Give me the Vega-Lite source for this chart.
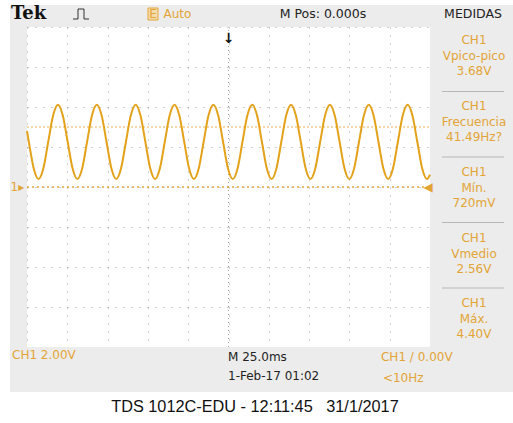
{
  "$schema": "https://vega.github.io/schema/vega-lite/v6.json",
  "width": 403,
  "height": 320,
  "autosize": {"type": "none"},
  "padding": {"left": 27, "top": 27, "right": 83, "bottom": 76},
  "background": "#ffffff",
  "config": {"view": {"stroke": null}},
  "encoding": {
    "x": {"field": "t", "type": "quantitative",
      "scale": {"domain": [-125, 125], "nice": false, "zero": false},
      "axis": {"values": [-125, -100, -75, -50, -25, 0, 25, 50, 75, 100, 125], "labels": false, "ticks": false, "domain": false, "title": null, "grid": true, "gridColor": "#a0a0a0", "gridDash": [1, 7]}},
    "y": {"field": "v", "type": "quantitative",
      "scale": {"domain": [-8, 8], "nice": false, "zero": false},
      "axis": {"values": [8, 6, 4, 2, 0, -2, -4, -6, -8], "labels": false, "ticks": false, "domain": false, "title": null, "grid": true, "gridColor": "#a0a0a0", "gridDash": [1, 7]}}
  },
  "layer": [
    {
      "data": {"values": [
        {"t": -135.55, "t2": 177, "v": 8, "v2": 9.1},
        {"t": -135.55, "t2": 177, "v": -10.25, "v2": -8},
        {"t": -135.55, "t2": -125, "v": -8, "v2": 8},
        {"t": 125, "t2": 177, "v": -8, "v2": 8}
      ]},
      "mark": {"type": "rect", "fill": "#ececec"},
      "encoding": {"x2": {"field": "t2"}, "y2": {"field": "v2"}}
    },
    {
      "data": {"values": [{"t": 0, "v": -8, "v2": 8}]},
      "mark": {"type": "rule", "color": "#a0a0a0", "strokeDash": [1, 3]},
      "encoding": {"y2": {"field": "v2"}}
    },
    {
      "data": {"values": [{"t": -125, "t2": 125, "v": 3.0}]},
      "mark": {"type": "rule", "color": "#e8b050", "strokeDash": [2, 2], "strokeWidth": 1.2},
      "encoding": {"x2": {"field": "t2"}}
    },
    {
      "data": {"values": [{"t": -125, "t2": 125, "v": 0}]},
      "mark": {"type": "rule", "color": "#e5a53a", "strokeDash": [2, 3], "strokeWidth": 1.5},
      "encoding": {"x2": {"field": "t2"}}
    },
    {
      "data": {"values": [
        {"t": -125, "v": 2.8},
        {"t": -123.875, "v": 2.26}, {"t": -120.8625, "v": 0.94}, {"t": -117.85, "v": 0.4}, {"t": -114.8375, "v": 0.94},
        {"t": -111.825, "v": 2.26}, {"t": -108.8125, "v": 3.57}, {"t": -105.8, "v": 4.11}, {"t": -102.7875, "v": 3.57},
        {"t": -99.775, "v": 2.26}, {"t": -96.7625, "v": 0.94}, {"t": -93.75, "v": 0.4}, {"t": -90.7375, "v": 0.94},
        {"t": -87.725, "v": 2.26}, {"t": -84.7125, "v": 3.57}, {"t": -81.7, "v": 4.11}, {"t": -78.6875, "v": 3.57},
        {"t": -75.675, "v": 2.26}, {"t": -72.6625, "v": 0.94}, {"t": -69.65, "v": 0.4}, {"t": -66.6375, "v": 0.94},
        {"t": -63.625, "v": 2.26}, {"t": -60.6125, "v": 3.57}, {"t": -57.6, "v": 4.11}, {"t": -54.5875, "v": 3.57},
        {"t": -51.575, "v": 2.26}, {"t": -48.5625, "v": 0.94}, {"t": -45.55, "v": 0.4}, {"t": -42.5375, "v": 0.94},
        {"t": -39.525, "v": 2.26}, {"t": -36.5125, "v": 3.57}, {"t": -33.5, "v": 4.11}, {"t": -30.4875, "v": 3.57},
        {"t": -27.475, "v": 2.26}, {"t": -24.4625, "v": 0.94}, {"t": -21.45, "v": 0.4}, {"t": -18.4375, "v": 0.94},
        {"t": -15.425, "v": 2.26}, {"t": -12.4125, "v": 3.57}, {"t": -9.4, "v": 4.11}, {"t": -6.3875, "v": 3.57},
        {"t": -3.375, "v": 2.26}, {"t": -0.3625, "v": 0.94}, {"t": 2.65, "v": 0.4}, {"t": 5.6625, "v": 0.94},
        {"t": 8.675, "v": 2.26}, {"t": 11.6875, "v": 3.57}, {"t": 14.7, "v": 4.11}, {"t": 17.7125, "v": 3.57},
        {"t": 20.725, "v": 2.26}, {"t": 23.7375, "v": 0.94}, {"t": 26.75, "v": 0.4}, {"t": 29.7625, "v": 0.94},
        {"t": 32.775, "v": 2.26}, {"t": 35.7875, "v": 3.57}, {"t": 38.8, "v": 4.11}, {"t": 41.8125, "v": 3.57},
        {"t": 44.825, "v": 2.26}, {"t": 47.8375, "v": 0.94}, {"t": 50.85, "v": 0.4}, {"t": 53.8625, "v": 0.94},
        {"t": 56.875, "v": 2.26}, {"t": 59.8875, "v": 3.57}, {"t": 62.9, "v": 4.11}, {"t": 65.9125, "v": 3.57},
        {"t": 68.925, "v": 2.26}, {"t": 71.9375, "v": 0.94}, {"t": 74.95, "v": 0.4}, {"t": 77.9625, "v": 0.94},
        {"t": 80.975, "v": 2.26}, {"t": 83.9875, "v": 3.57}, {"t": 87.0, "v": 4.11}, {"t": 90.0125, "v": 3.57},
        {"t": 93.025, "v": 2.26}, {"t": 96.0375, "v": 0.94}, {"t": 99.05, "v": 0.4}, {"t": 102.0625, "v": 0.94},
        {"t": 105.075, "v": 2.26}, {"t": 108.0875, "v": 3.57}, {"t": 111.1, "v": 4.11}, {"t": 114.1125, "v": 3.57},
        {"t": 117.125, "v": 2.26}, {"t": 120.1375, "v": 0.94}, {"t": 123.15, "v": 0.4}, {"t": 125, "v": 0.61}
      ]},
      "mark": {"type": "line", "color": "#e3a21a", "strokeWidth": 2, "interpolate": "monotone"},
      "encoding": {"order": {"field": "t", "type": "quantitative"}}
    },
    {
      "data": {"values": [
        {"t": 132.4, "t2": 170.9, "v": 4.775},
        {"t": 132.4, "t2": 170.9, "v": 1.5},
        {"t": 132.4, "t2": 170.9, "v": -1.775},
        {"t": 132.4, "t2": 170.9, "v": -5.05}
      ]},
      "mark": {"type": "rule", "color": "#b8b8b8", "strokeWidth": 1},
      "encoding": {"x2": {"field": "t2"}}
    },
    {
      "data": {"values": [{"t": -49.94, "t2": -43.74, "v": 8.35, "v2": 8.95}]},
      "mark": {"type": "rect", "fill": "#f3dcae", "stroke": "#e5a53a", "strokeWidth": 1},
      "encoding": {"x2": {"field": "t2"}, "y2": {"field": "v2"}}
    },
    {
      "data": {"values": [
        {"t": -96.47, "v": 8.4}, {"t": -93.36, "v": 8.4}, {"t": -93.36, "v": 8.9},
        {"t": -89.64, "v": 8.9}, {"t": -89.64, "v": 8.4}, {"t": -86.54, "v": 8.4}
      ]},
      "mark": {"type": "line", "color": "#333333", "strokeWidth": 1},
      "encoding": {"order": {"field": "t", "type": "quantitative"}}
    },
    {
      "data": {"values": [{"t": -134.9, "v": 8.65, "label": "Tek"}]},
      "mark": {"type": "text", "font": "DejaVu Serif", "fontWeight": "bold", "fontSize": 18, "align": "left", "baseline": "middle", "color": "#111111"},
      "encoding": {"text": {"field": "label"}}
    },
    {
      "data": {"values": [
        {"t": 58.6, "v": 8.65, "label": "M Pos: 0.000s"},
        {"t": 151.7, "v": 8.65, "label": "MEDIDAS"}
      ]},
      "mark": {"type": "text", "font": "DejaVu Sans", "fontSize": 12.5, "align": "center", "baseline": "middle", "color": "#222222"},
      "encoding": {"text": {"field": "label"}}
    },
    {
      "data": {"values": [{"t": 0, "v": 7.4, "label": "↓"}]},
      "mark": {"type": "text", "font": "DejaVu Sans", "fontWeight": "bold", "fontSize": 14, "align": "center", "baseline": "middle", "color": "#111111"},
      "encoding": {"text": {"field": "label"}}
    },
    {
      "data": {"values": [
        {"t": -0.31, "v": -8.5, "label": "M 25.0ms"},
        {"t": -0.31, "v": -9.45, "label": "1-Feb-17 01:02"}
      ]},
      "mark": {"type": "text", "font": "DejaVu Sans", "fontSize": 12, "align": "left", "baseline": "middle", "color": "#222222"},
      "encoding": {"text": {"field": "label"}}
    },
    {
      "data": {"values": [
        {"t": 152.3, "v": 7.35, "label": "CH1"},
        {"t": 152.3, "v": 6.575, "label": "Vpico-pico"},
        {"t": 152.3, "v": 5.8, "label": "3.68V"},
        {"t": 152.3, "v": 4.05, "label": "CH1"},
        {"t": 152.3, "v": 3.275, "label": "Frecuencia"},
        {"t": 152.3, "v": 2.5, "label": "41.49Hz?"},
        {"t": 152.3, "v": 0.75, "label": "CH1"},
        {"t": 152.3, "v": -0.025, "label": "Mín."},
        {"t": 152.3, "v": -0.8, "label": "720mV"},
        {"t": 152.3, "v": -2.55, "label": "CH1"},
        {"t": 152.3, "v": -3.325, "label": "Vmedio"},
        {"t": 152.3, "v": -4.1, "label": "2.56V"},
        {"t": 152.3, "v": -5.8, "label": "CH1"},
        {"t": 152.3, "v": -6.575, "label": "Máx."},
        {"t": 152.3, "v": -7.35, "label": "4.40V"},
        {"t": -46.8, "v": 8.65, "label": "E"},
        {"t": 123.8, "v": 0, "label": "◀"}
      ]},
      "mark": {"type": "text", "font": "DejaVu Sans", "fontSize": 12, "align": "center", "baseline": "middle", "color": "#e3a436"},
      "encoding": {"text": {"field": "label"}}
    },
    {
      "data": {"values": [
        {"t": -40.3, "v": 8.65, "label": "Auto"},
        {"t": -134.3, "v": -8.4, "label": "CH1  2.00V"},
        {"t": 94.6, "v": -8.5, "label": "CH1 / 0.00V"},
        {"t": 95.8, "v": -9.55, "label": "<10Hz"},
        {"t": -135.2, "v": 0, "label": "1▸"}
      ]},
      "mark": {"type": "text", "font": "DejaVu Sans", "fontSize": 12, "align": "left", "baseline": "middle", "color": "#e3a436"},
      "encoding": {"text": {"field": "label"}}
    },
    {
      "data": {"values": [{"t": 16.4, "v": -11.0, "label": "TDS 1012C-EDU - 12:11:45\u00a0\u00a0\u00a031/1/2017"}]},
      "mark": {"type": "text", "font": "Liberation Sans", "fontSize": 16.3, "align": "center", "baseline": "middle", "color": "#111111"},
      "encoding": {"text": {"field": "label"}}
    }
  ]
}
